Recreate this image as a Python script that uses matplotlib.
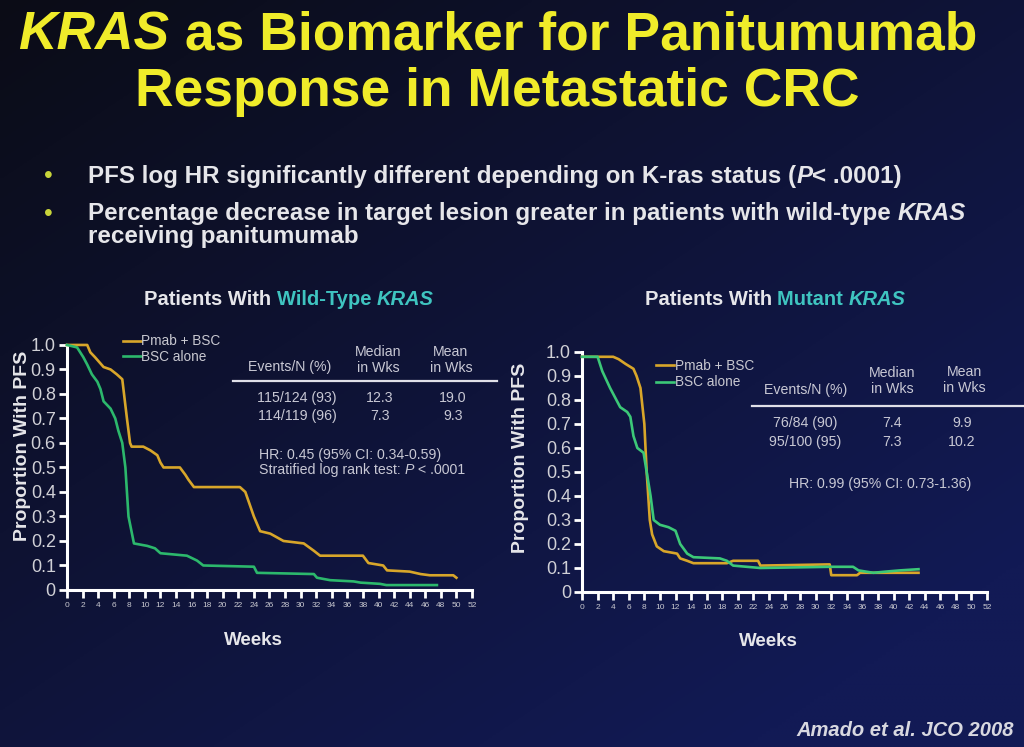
import numpy as np
import matplotlib
matplotlib.use('Agg')
import matplotlib.pyplot as plt

plt.rcParams['font.family'] = ['Liberation Sans', 'DejaVu Sans']

# ---- data ----
weeks_ticks = list(range(0, 53, 2))
y_ticks = [0, 0.1, 0.2, 0.3, 0.4, 0.5, 0.6, 0.7, 0.8, 0.9, 1.0]
y_ticklabels = ['0', '0.1', '0.2', '0.3', '0.4', '0.5', '0.6', '0.7', '0.8', '0.9', '1.0']

# wild-type KRAS
wt_pmab_t = [0, 2.6, 3.0, 3.6, 4.7, 5.6, 6.4, 7.1, 7.7, 8.1, 8.3, 9.8, 10.7, 11.6, 12.0, 12.4,
             14.5, 15.2, 15.6, 16.3, 22.2, 22.9, 24.0, 24.8, 26.1, 27.8, 30.4, 31.7, 32.5, 38.0,
             38.7, 40.6, 41.1, 44.0, 45.4, 46.6, 49.6, 50.0]
wt_pmab_s = [1.0, 1.0, 0.97, 0.95, 0.91, 0.90, 0.88, 0.86, 0.70, 0.60, 0.585, 0.585, 0.57, 0.55,
             0.52, 0.50, 0.50, 0.47, 0.45, 0.42, 0.42, 0.40, 0.30, 0.24, 0.23, 0.20, 0.19, 0.16,
             0.14, 0.14, 0.11, 0.10, 0.08, 0.075, 0.065, 0.06, 0.06, 0.05]
wt_bsc_t = [0, 1.3, 2.1, 2.6, 3.2, 3.9, 4.3, 4.7, 5.6, 6.2, 6.6, 7.1, 7.5, 7.9, 8.6, 10.3, 11.3,
            12.0, 15.4, 16.7, 17.5, 24.0, 24.4, 31.7, 32.1, 33.8, 36.8, 37.7, 40.2, 41.0, 47.5]
wt_bsc_s = [1.0, 0.99, 0.95, 0.92, 0.88, 0.85, 0.82, 0.77, 0.74, 0.70, 0.65, 0.60, 0.50, 0.30,
            0.19, 0.18, 0.17, 0.15, 0.14, 0.12, 0.10, 0.095, 0.07, 0.065, 0.05, 0.04, 0.035,
            0.03, 0.025, 0.02, 0.02]

# mutant KRAS
mt_pmab_t = [0, 4.0, 4.7, 5.6, 6.6, 7.0, 7.5, 8.0, 8.3, 8.7, 9.0, 9.6, 10.5, 12.2, 12.6, 13.5,
             14.3, 18.6, 19.4, 22.6, 22.9, 31.8, 32.0, 35.3, 35.7, 43.2]
mt_pmab_s = [0.98, 0.98, 0.97, 0.95, 0.93, 0.90, 0.85, 0.70, 0.50, 0.30, 0.24, 0.19, 0.17,
             0.16, 0.14, 0.13, 0.12, 0.12, 0.13, 0.13, 0.11, 0.115, 0.07, 0.07, 0.08, 0.08]
mt_bsc_t = [0, 2.0, 2.6, 3.6, 4.9, 5.8, 6.2, 6.6, 7.1, 7.9, 8.3, 8.8, 9.2, 10.0, 11.1, 12.0,
            12.6, 13.5, 14.3, 17.7, 18.6, 19.4, 22.9, 31.8, 34.8, 35.5, 37.4, 39.0, 40.8, 43.2]
mt_bsc_s = [0.98, 0.98, 0.92, 0.85, 0.77, 0.75, 0.73, 0.65, 0.60, 0.58, 0.50, 0.40, 0.30,
            0.28, 0.27, 0.255, 0.20, 0.16, 0.145, 0.14, 0.13, 0.11, 0.10, 0.105, 0.105, 0.09,
            0.08, 0.085, 0.09, 0.095]

YELLOW = '#d8a62a'
GREEN = '#2cb86c'
GREEN2 = '#3cc878'
WHITE = '#e6e6ea'
TEAL = '#3fc4c0'
TITLE = '#f0ec2a'

fig = plt.figure(figsize=(10.24, 7.47), dpi=100)

# background gradient (dark near top-left, navy towards bottom-right)
bg = fig.add_axes([0, 0, 1, 1])
gx, gy = np.meshgrid(np.linspace(0, 1, 256), np.linspace(0, 1, 256))
w = np.clip(0.55 * gx + 0.6 * gy, 0, 1)
c0 = np.array([0x0b, 0x0c, 0x16]) / 255
c1 = np.array([0x12, 0x1a, 0x55]) / 255
img = c0[None, None, :] * (1 - w[..., None]) + c1[None, None, :] * w[..., None]
bg.imshow(img, aspect='auto', extent=[0, 1, 0, 1], origin='upper')
bg.axis('off')

r = fig.canvas.get_renderer()
fw = fig.bbox.width


def runs(x, y, parts, size, ha='left', **kw):
    # parts: list of (text, color, italic) drawn one after another
    objs = []
    for txt, col, ital in parts:
        o = fig.text(0, y, txt, color=col, fontsize=size, style='italic' if ital else 'normal',
                     va='center', ha='left', **kw)
        objs.append(o)
    widths = [o.get_window_extent(r).width / fw for o in objs]
    total = sum(widths)
    x0 = x - total / 2 if ha == 'center' else x
    for o, wd in zip(objs, widths):
        o.set_x(x0)
        x0 += wd


# title
runs(0.018, 0.952, [('KRAS', TITLE, True), (' as Biomarker for Panitumumab', TITLE, False)],
     38.4, fontweight='bold')
runs(0.486, 0.877, [('Response in Metastatic CRC', TITLE, False)], 38.4, ha='center',
     fontweight='bold')

# bullets
for yy in [0.764, 0.714]:
    fig.text(0.047, yy, '\u2022', color='#c8d43a', fontsize=18, va='center', ha='center')
BS = 17.4
runs(0.086, 0.764, [('PFS log HR significantly different depending on K-ras status (', WHITE, False),
                    ('P', WHITE, True), ('< .0001)', WHITE, False)], BS, fontweight='bold')
runs(0.086, 0.714, [('Percentage decrease in target lesion greater in patients with wild-type ', WHITE, False),
                    ('KRAS', WHITE, True)], BS, fontweight='bold')
runs(0.086, 0.684, [('receiving panitumumab', WHITE, False)], BS, fontweight='bold')

# panel subtitles
runs(0.282, 0.599, [('Patients With ', WHITE, False), ('Wild-Type ', TEAL, False),
                    ('KRAS', TEAL, True)], 14.5, ha='center', fontweight='bold')
runs(0.757, 0.599, [('Patients With ', WHITE, False), ('Mutant ', TEAL, False),
                    ('KRAS', TEAL, True)], 14.5, ha='center', fontweight='bold')


def km_axes(rect, pm_t, pm_s, bs_t, bs_s, green, weeks_x, ylab_x, ylab_y):
    ax = fig.add_axes(rect)
    ax.patch.set_alpha(0)
    ax.plot(pm_t, pm_s, color=YELLOW, lw=1.9, label='Pmab + BSC', clip_on=False, zorder=3)
    ax.plot(bs_t, bs_s, color=green, lw=1.9, label='BSC alone', clip_on=False, zorder=3)
    ax.set_xlim(0, 52)
    ax.set_ylim(0, 1.0)
    ax.set_xticks(weeks_ticks)
    ax.set_xticklabels([str(v) for v in weeks_ticks], fontsize=6, color='#c8c8d0')
    ax.set_yticks(y_ticks)
    ax.set_yticklabels(y_ticklabels, fontsize=13, color='#d0d0d6')
    for s in ['top', 'right']:
        ax.spines[s].set_visible(False)
    for s in ['left', 'bottom']:
        ax.spines[s].set_color('white')
        ax.spines[s].set_linewidth(2.2)
    ax.tick_params(axis='both', colors='white', width=2, length=6, direction='out')
    ax.tick_params(axis='x', labelcolor='#c8c8d0', pad=3)
    ax.tick_params(axis='y', labelcolor='#d0d0d6', pad=2)
    ax.set_xlabel('Weeks', color=WHITE, fontsize=13.5, fontweight='bold')
    ax.xaxis.set_label_coords(weeks_x, -0.17)
    ax.set_ylabel('Proportion With PFS', color=WHITE, fontsize=14, fontweight='bold')
    ax.yaxis.set_label_coords(ylab_x, ylab_y)
    return ax


# wild-type panel
ax1 = km_axes([0.0654, 0.2102, 0.3955, 0.328], wt_pmab_t, wt_pmab_s, wt_bsc_t, wt_bsc_s,
              GREEN, 0.46, -0.09, 0.59)
leg = ax1.legend(loc='upper left', bbox_to_anchor=(0.125, 1.065), frameon=False, fontsize=9.8,
                 handlelength=1.3, handletextpad=0.05, labelspacing=0.1, borderaxespad=0)
for tx in leg.get_texts():
    tx.set_color('#c8c8d0')

# mutant panel
ax2 = km_axes([0.5684, 0.2075, 0.3955, 0.3213], mt_pmab_t, mt_pmab_s, mt_bsc_t, mt_bsc_s,
              GREEN2, 0.46, -0.13, 0.56)
leg2 = ax2.legend(loc='upper left', bbox_to_anchor=(0.17, 0.995), frameon=False, fontsize=9.8,
                  handlelength=1.3, handletextpad=0.05, labelspacing=0.2, borderaxespad=0)
for tx in leg2.get_texts():
    tx.set_color('#c8c8d0')


def px(x, y):
    return x / 1024, 1 - y / 747


TC = '#c8c8d4'
TS = 10.2
# wild-type table
fig.text(*px(290, 367), 'Events/N (%)', color=TC, fontsize=TS, ha='center', va='center')
fig.text(*px(378, 360), 'Median\nin Wks', color=TC, fontsize=TS, ha='center', va='center',
         linespacing=1.1)
fig.text(*px(451, 360), 'Mean\nin Wks', color=TC, fontsize=TS, ha='center', va='center',
         linespacing=1.1)
fig.add_artist(plt.Line2D([233 / 1024, 497 / 1024], [1 - 381 / 747] * 2, color='#e0e0e8', lw=1.6))
for yy, row in zip([398, 416], [('115/124 (93)', '12.3', '19.0'), ('114/119 (96)', '7.3', '9.3')]):
    fig.text(*px(297, yy), row[0], color=TC, fontsize=TS, ha='center', va='center')
    fig.text(*px(380, yy), row[1], color=TC, fontsize=TS, ha='center', va='center')
    fig.text(*px(453, yy), row[2], color=TC, fontsize=TS, ha='center', va='center')
fig.text(*px(259, 455), 'HR: 0.45 (95% CI: 0.34-0.59)', color=TC, fontsize=TS, ha='left',
         va='center')
runs(259 / 1024, 1 - 470 / 747, [('Stratified log rank test: ', TC, False), ('P', TC, True),
                                 (' < .0001', TC, False)], TS)

# mutant table
fig.text(*px(806, 390), 'Events/N (%)', color=TC, fontsize=TS, ha='center', va='center')
fig.text(*px(892, 381), 'Median\nin Wks', color=TC, fontsize=TS, ha='center', va='center',
         linespacing=1.1)
fig.text(*px(964, 380), 'Mean\nin Wks', color=TC, fontsize=TS, ha='center', va='center',
         linespacing=1.1)
fig.add_artist(plt.Line2D([752 / 1024, 1.0], [1 - 406 / 747] * 2, color='#e0e0e8', lw=1.6))
for yy, row in zip([423, 442], [('76/84 (90)', '7.4', '9.9'), ('95/100 (95)', '7.3', '10.2')]):
    fig.text(*px(805, yy), row[0], color=TC, fontsize=TS, ha='center', va='center')
    fig.text(*px(892, yy), row[1], color=TC, fontsize=TS, ha='center', va='center')
    fig.text(*px(962, yy), row[2], color=TC, fontsize=TS, ha='center', va='center')
fig.text(*px(880, 484), 'HR: 0.99 (95% CI: 0.73-1.36)', color=TC, fontsize=TS, ha='center',
         va='center')

# citation
fig.text(*px(1014, 731), 'Amado et al. JCO 2008', color='#d8d8e0', fontsize=14.5,
         fontweight='bold', style='italic', ha='right', va='center')

fig.savefig('out.png', dpi=100)
